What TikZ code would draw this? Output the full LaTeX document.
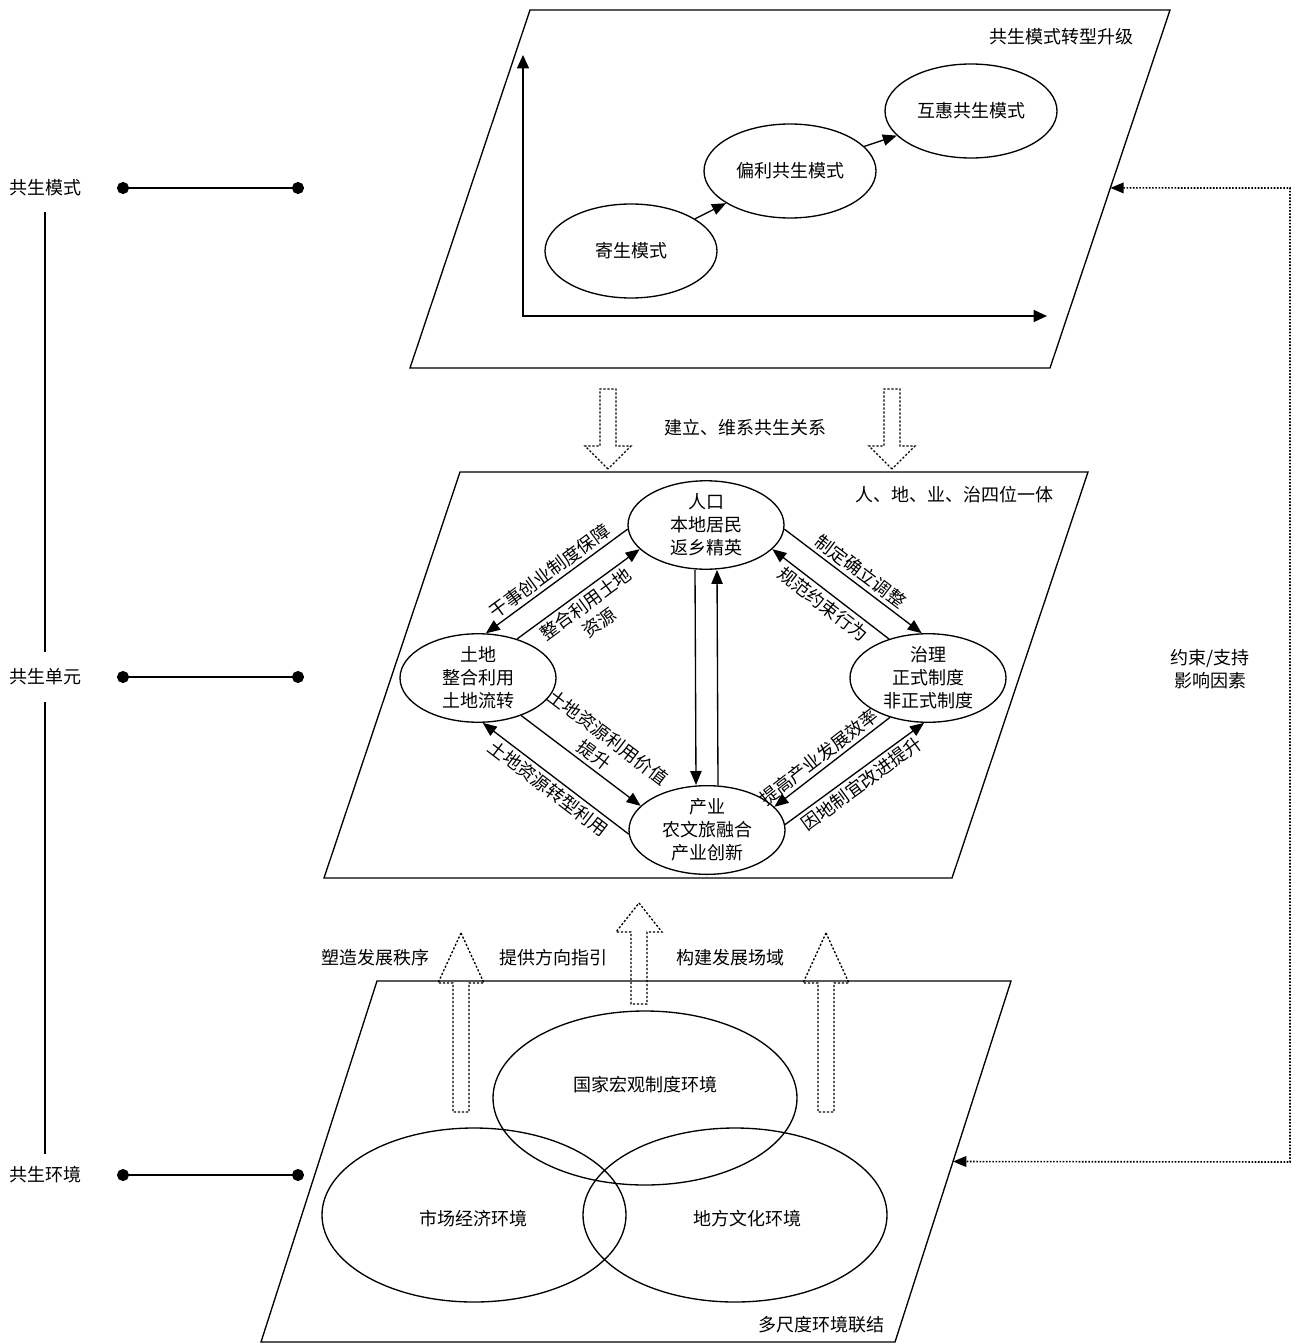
\documentclass[tikz,border=0pt]{standalone}
\usepackage{fontspec}
\setmainfont{Noto Sans CJK SC}
\usetikzlibrary{arrows.meta,calc,shapes.geometric,positioning}

\tikzset{
  every node/.style={font=\fontsize{13.5pt}{17.25pt}\selectfont},
  plane/.style={draw, line width=1pt},
  mode/.style={draw, ellipse, line width=1pt, inner sep=0pt, minimum width=129pt, minimum height=70.5pt},
  unit/.style={draw, ellipse, line width=1pt, inner sep=0pt, align=center, minimum width=117pt, minimum height=64.5pt},
  envi/.style={draw, ellipse, line width=1pt, minimum width=228pt, minimum height=130.5pt},
  link/.style={line width=1pt, -{Triangle[length=10.5pt,width=8.5pt]}},
  axis/.style={line width=1pt, {Triangle[length=10pt,width=9pt]}-{Triangle[length=10pt,width=9pt]}},
  lbl/.style={midway, sloped, inner sep=2.5pt, align=center},
  hollow/.style={line width=1pt, dash pattern=on 1.6pt off 1.4pt},
  feed/.style={line width=1.2pt, dash pattern=on 1.2pt off 1.2pt, {Triangle[length=10pt,width=8pt]}-{Triangle[length=10pt,width=8pt]}},
  dotline/.style={line width=1.2pt, {Circle[length=9pt]}-{Circle[length=9pt]}},
  pics/hollowup/.style 2 args={code={
    \draw[hollow] (0,0) -- (23,#1) -- (8,#1) -- (8,#2) -- (-8,#2) -- (-8,#1) -- (-23,#1) -- cycle;
  }},
}

\begin{document}
\begin{tikzpicture}[x=0.75pt, y=-0.75pt]
\useasboundingbox (0,0) rectangle (1298,1344);

% left levels
\foreach \y/\t/\n in {188/共生模式/m, 677/共生单元/u, 1175/共生环境/e} {
  \node (l\n) at (45,\y) {\t};
  \coordinate (d\n a) at (117,\y);
  \coordinate (d\n b) at (304,\y);
  \draw[dotline] (d\n a) -- (d\n b);
}
\draw[line width=1pt, shorten <=8pt, shorten >=9pt] (lm) -- (lu);
\draw[line width=1pt, shorten <=9pt, shorten >=6pt] (lu) -- (le);

% top plane
\coordinate (a1) at (530,10);
\coordinate (a2) at (1170,10);
\coordinate (a3) at (1050,368);
\coordinate (a4) at (410,368);
\draw[plane] (a1) -- (a2) -- (a3) -- (a4) -- cycle;
\node[anchor=east] at (1138,37) {共生模式转型升级};
\coordinate (o) at (523,316);
\coordinate (oy) at (523,55);
\coordinate (ox) at (1047,316);
\draw[axis] (oy) -- (o) -- (ox);
\node[mode] (js) at (631,251) {寄生模式};
\node[mode] (pl) at (790,171) {偏利共生模式};
\node[mode] (hh) at (971,111) {互惠共生模式};
\draw[link] (js) -- (pl);
\draw[link] (pl) -- (hh);

\pic[rotate=180] at (608,469) {hollowup={23}{80}};
\pic[rotate=180] at (892,469) {hollowup={23}{80}};
\node at (745,428) {建立、维系共生关系};

% middle plane
\coordinate (b1) at (460,472);
\coordinate (b2) at (1088,472);
\coordinate (b3) at (952,878);
\coordinate (b4) at (324,878);
\draw[plane] (b1) -- (b2) -- (b3) -- (b4) -- cycle;
\node[anchor=east] at (1058,495) {人、地、业、治四位一体};
\node[unit] (rk) at (706,525) {人口\\本地居民\\返乡精英};
\node[unit] (td) at (478,678) {土地\\整合利用\\土地流转};
\node[unit] (zl) at (928,678) {治理\\正式制度\\非正式制度};
\node[unit] (cy) at (707,830) {产业\\农文旅融合\\产业创新};

\draw[link] (rk.183) -- (td.80) node[lbl, above] {干事创业制度保障};
\draw[link] (td.45) -- (rk.200) node[lbl, below] {整合利用土地\\资源};
\draw[link] (rk.357) -- (zl.98) node[lbl, above] {制定确立调整};
\draw[link] (zl.135) -- (rk.340) node[lbl, below] {规范约束行为};
\draw[link] ([xshift=-8.25pt]rk.south) -- ([xshift=-8.25pt]cy.north);
\draw[link] ([xshift=8.25pt]cy.north) -- ([xshift=8.25pt]rk.south);
\draw[link] (td.319) -- (cy.160) node[lbl, above, pos=0.55] {土地资源利用价值\\提升};
\draw[link] (cy.183) -- (td.276) node[lbl, below] {土地资源转型利用};
\draw[link] (zl.226) -- (cy.19) node[lbl, above, pos=0.55] {提高产业发展效率};
\draw[link] (cy.4) -- (zl.265) node[lbl, below] {因地制宜改进提升};

% bottom plane
\coordinate (c1) at (377,981);
\coordinate (c2) at (1011,981);
\coordinate (c3) at (895,1342);
\coordinate (c4) at (261,1342);
\draw[plane] (c1) -- (c2) -- (c3) -- (c4) -- cycle;
\node[envi] (gj) at (645,1098) {};
\node[envi] (sc) at (474,1215) {};
\node[envi] (df) at (735,1215) {};
\node (gjt) at (645,1085) {国家宏观制度环境};
\node (sct) at (473,1219) {市场经济环境};
\node (dft) at (747,1219) {地方文化环境};
\node[anchor=east] at (889,1325) {多尺度环境联结};

\pic at (461,933) {hollowup={50}{179}};
\pic at (639,903) {hollowup={29}{101}};
\pic at (826,933) {hollowup={50}{179}};
\node at (375,958) {塑造发展秩序};
\node at (553,958) {提供方向指引};
\node at (730,958) {构建发展场域};

% feedback
\coordinate (f1) at ($(a2)!0.497!(a3)$);
\coordinate (f2) at ($(c2)!0.5!(c3)$);
\coordinate (fr1) at (1290,188);
\coordinate (fr2) at (1290,1162);
\draw[feed] (f1) -- (fr1) -- (fr2) -- (f2);
\node[align=center] at (1210,669) {约束/支持\\影响因素};

\end{tikzpicture}
\end{document}
